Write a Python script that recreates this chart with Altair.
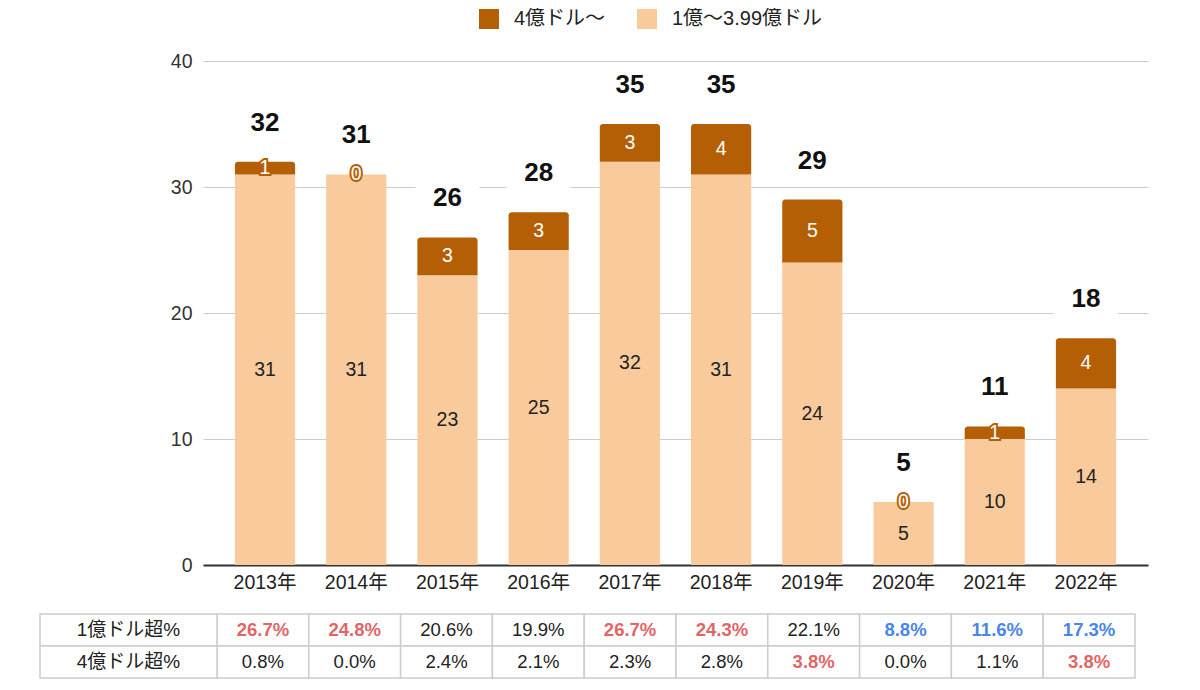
import altair as alt
import pandas as pd

# ---- data ----
years = ["2013年", "2014年", "2015年", "2016年", "2017年",
         "2018年", "2019年", "2020年", "2021年", "2022年"]
over4 = [1, 0, 3, 3, 3, 4, 5, 0, 1, 4]          # 4億ドル〜
mid = [31, 31, 23, 25, 32, 31, 24, 5, 10, 14]    # 1億〜3.99億ドル
series = ["4億ドル〜", "1億〜3.99億ドル"]
series_colors = ["#B45F06", "#F9CB9C"]

row_labels = ["1億ドル超%", "4億ドル超%"]
pct1 = ["26.7%", "24.8%", "20.6%", "19.9%", "26.7%",
        "24.3%", "22.1%", "8.8%", "11.6%", "17.3%"]
pct4 = ["0.8%", "0.0%", "2.4%", "2.1%", "2.3%",
        "2.8%", "3.8%", "0.0%", "1.1%", "3.8%"]
hl1 = ["high", "high", "normal", "normal", "high",
       "high", "normal", "low", "low", "low"]
hl4 = ["normal", "normal", "normal", "normal", "normal",
       "normal", "high", "normal", "normal", "high"]

FONT = "'Liberation Sans', 'Noto Sans CJK JP', sans-serif"

# ---- tables built from the arrays ----
bar_rows = []
for y, m, o in zip(years, mid, over4):
    bar_rows.append({"year": y, "series": series[1], "value": m,
                     "y0": 0, "y1": m, "ymid": m / 2})
    bar_rows.append({"year": y, "series": series[0], "value": o,
                     "y0": m, "y1": m + o, "ymid": m + o / 2})
bars_df = pd.DataFrame(bar_rows)
tot_df = pd.DataFrame({"year": years,
                       "total": [m + o for m, o in zip(mid, over4)]})

tab_rows = []
for i, y in enumerate(years):
    tab_rows.append({"year": y, "row": row_labels[0], "txt": pct1[i], "kind": hl1[i]})
    tab_rows.append({"year": y, "row": row_labels[1], "txt": pct4[i], "kind": hl4[i]})
tab_df = pd.DataFrame(tab_rows)
lab_df = pd.DataFrame({"row": row_labels, "col": ["label"] * len(row_labels)})

# ---- bar part ----
xs = alt.Scale(domain=years, paddingInner=0.34, paddingOuter=0.35)
x_axis = alt.Axis(title=None, labelAngle=0, labelFontSize=19.5, labelColor="#222",
                  labelFont=FONT, ticks=False, domainColor="#333", domainWidth=2,
                  labelPadding=8)
X = alt.X("year:N", sort=years, scale=xs, axis=x_axis)
ys = alt.Scale(domain=[0, 40], nice=False, zero=True)
y_axis = alt.Axis(title=None, values=[0, 10, 20, 30, 40], labelFontSize=19.5,
                  labelColor="#333", labelFont=FONT, ticks=False, domain=False,
                  gridColor="#cccccc", gridWidth=1.2, labelPadding=11)

color = alt.Color("series:N", scale=alt.Scale(domain=series, range=series_colors),
                  legend=alt.Legend(title=None, orient="none", legendX=276, legendY=-52,
                                    direction="horizontal", symbolType="square",
                                    symbolSize=400, symbolStrokeWidth=0,
                                    labelFontSize=20, labelColor="#222", labelFont=FONT,
                                    labelOffset=15, columnPadding=31, padding=0))

base = alt.Chart(bars_df)
light = base.transform_filter(alt.datum.series == series[1]).mark_bar().encode(
    x=X, y=alt.Y("y0:Q", scale=ys, axis=y_axis), y2="y1:Q", color=color)
dark = base.transform_filter(alt.datum.series == series[0]).mark_bar(
    cornerRadiusTopLeft=3, cornerRadiusTopRight=3).encode(
    x=X, y=alt.Y("y0:Q", scale=ys, axis=y_axis), y2="y1:Q", color=color)

light_txt = base.transform_filter(alt.datum.series == series[1]).mark_text(
    fontSize=19.5, font=FONT, color="#222", baseline="middle").encode(
    x=X, y=alt.Y("ymid:Q", scale=ys, axis=y_axis), text="value:Q")
dark_txt_outline = base.transform_filter(alt.datum.series == series[0]).mark_text(
    fontSize=19.5, font=FONT, fill="#B45F06", stroke="#B45F06", strokeWidth=4,
    baseline="middle").encode(
    x=X, y=alt.Y("ymid:Q", scale=ys, axis=y_axis), text="value:Q")
dark_txt = base.transform_filter(alt.datum.series == series[0]).mark_text(
    fontSize=19.5, font=FONT, color="white", baseline="middle").encode(
    x=X, y=alt.Y("ymid:Q", scale=ys, axis=y_axis), text="value:Q")

tbase = alt.Chart(tot_df)
boxes = tbase.mark_point(shape="M-1,-0.5L1,-0.5L1,0.5L-1,0.5Z", size=4096,
                         filled=True, color="white", fill="white", opacity=1,
                         strokeWidth=0, yOffset=-39).encode(
    x=X, y=alt.Y("total:Q", scale=ys, axis=y_axis))
tot_txt = tbase.mark_text(fontSize=26, fontWeight="bold", font=FONT, color="#111",
                          baseline="middle", dy=-39).encode(
    x=X, y=alt.Y("total:Q", scale=ys, axis=y_axis), text="total:Q")

bar_part = alt.layer(light, dark, light_txt, dark_txt_outline, dark_txt, boxes, tot_txt)

# ---- table part ----
TX = alt.X("year:N", sort=years,
           scale=alt.Scale(domain=years, range=[14, 932], paddingInner=0, paddingOuter=0),
           axis=None)
TY = alt.Y("row:N", sort=row_labels,
           scale=alt.Scale(domain=row_labels, range=[553, 617], paddingInner=0, paddingOuter=0),
           axis=None)
tb = alt.Chart(tab_df)
cells = tb.mark_rect(fill="white", stroke="#cccccc", strokeWidth=1.5).encode(x=TX, y=TY)
t_high = tb.transform_filter(alt.datum.kind == "high").mark_text(
    fontSize=18.5, font=FONT, fontWeight="bold", color="#E06666", baseline="middle").encode(
    x=TX, y=TY, text="txt:N")
t_low = tb.transform_filter(alt.datum.kind == "low").mark_text(
    fontSize=18.5, font=FONT, fontWeight="bold", color="#4A86E8", baseline="middle").encode(
    x=TX, y=TY, text="txt:N")
t_norm = tb.transform_filter(alt.datum.kind == "normal").mark_text(
    fontSize=18.5, font=FONT, color="#222", baseline="middle").encode(
    x=TX, y=TY, text="txt:N")
table_years = alt.layer(cells, t_high, t_low, t_norm)

LX = alt.X("col:N", scale=alt.Scale(domain=["label"], range=[-163, 14],
                                    paddingInner=0, paddingOuter=0), axis=None)
lb = alt.Chart(lab_df)
lcells = lb.mark_rect(fill="white", stroke="#cccccc", strokeWidth=1.5).encode(x=LX, y=TY)
ltxt = lb.mark_text(fontSize=19, font=FONT, color="#222", baseline="middle").encode(
    x=LX, y=TY, text="row:N")
table_labels = alt.layer(lcells, ltxt)

table = alt.layer(table_years, table_labels).resolve_scale(x="independent")

chart = alt.layer(bar_part, table).resolve_scale(
    x="independent", y="independent"
).properties(
    width=945, height=504,
    autosize=alt.AutoSizeParams(type="none"),
    padding={"left": 195, "top": 53, "right": 44, "bottom": 117},
    background="white"
).configure(font=FONT).configure_view(strokeWidth=0, stroke="transparent")

chart.save("out.html", embed_options={"renderer": "svg", "actions": False})
